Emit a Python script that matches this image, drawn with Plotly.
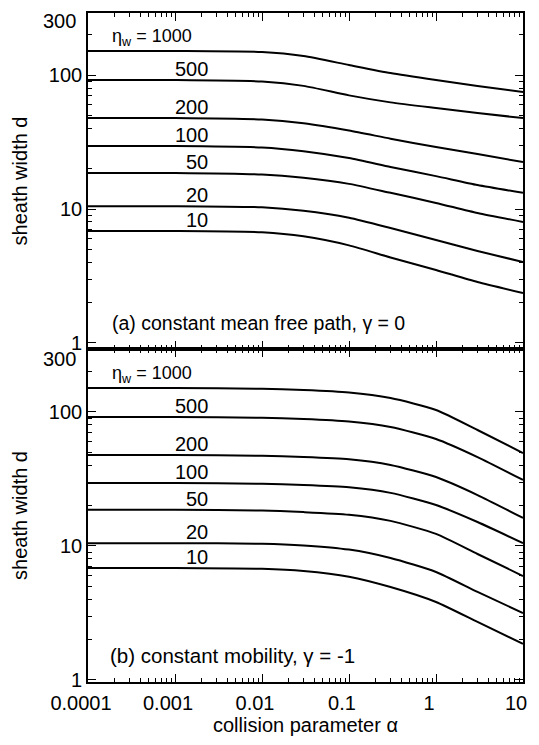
import math
import plotly.graph_objects as go
from plotly.subplots import make_subplots

# collision parameter alpha (x values)
alpha = [1e-4, 1e-3, 1e-2, 0.03, 0.1, 0.3, 1, 3, 10]
eta_w = [1000, 500, 200, 100, 50, 20, 10]

# (a) constant mean free path, gamma = 0 : sheath width d
a_1000 = [151, 151, 148.5, 138.6, 118.8, 103.5, 91.8, 82.8, 74.6]
a_500 = [91.8, 91.8, 89.5, 83.0, 70.5, 62.5, 56.7, 52.1, 47.7]
a_200 = [47.7, 47.7, 46.5, 43.6, 38.5, 33.5, 29.0, 25.7, 22.4]
a_100 = [29.5, 29.5, 28.8, 27.0, 24.0, 20.6, 17.6, 15.1, 13.2]
a_50 = [18.6, 18.6, 18.1, 17.1, 15.4, 13.2, 11.1, 9.33, 8.0]
a_20 = [10.5, 10.5, 10.3, 9.7, 8.6, 7.21, 5.87, 4.86, 4.02]
a_10 = [6.85, 6.85, 6.7, 6.25, 5.35, 4.35, 3.51, 2.85, 2.36]

# (b) constant mobility, gamma = -1 : sheath width d
b_1000 = [151, 151, 149, 146, 140, 127, 103.5, 73.4, 49.4]
b_500 = [91.8, 91.8, 90.5, 88.7, 85.0, 77.3, 62.9, 46.1, 31.1]
b_200 = [47.7, 47.7, 47.1, 46.1, 44.3, 40.2, 32.7, 24.0, 16.2]
b_100 = [29.5, 29.5, 29.1, 28.5, 27.4, 24.9, 20.2, 15.1, 10.5]
b_50 = [18.6, 18.6, 18.4, 17.9, 17.1, 15.4, 12.3, 8.71, 5.97]
b_20 = [10.5, 10.5, 10.4, 10.1, 9.4, 8.13, 6.40, 4.54, 3.16]
b_10 = [6.85, 6.85, 6.75, 6.5, 5.9, 4.94, 3.82, 2.71, 1.86]

# curve labels: d value of each label; first label left-aligned, others right-aligned
label_text = ["\u03b7<sub>w</sub> = 1000", "500", "200", "100", "50", "20", "10"]
label_d = [189, 110, 57.7, 35.6, 22.4, 12.7, 8.28]
label_alpha_first = 0.00018
label_alpha = 0.0025

x_ticks = [1e-4, 1e-3, 1e-2, 0.1, 1, 10]
x_ticktext = ["0.0001", "0.001", "0.01", "0.1", "1", "10"]

FONT = "Liberation Sans, Arial, Helvetica, sans-serif"
split = 333 / 669

fig = make_subplots(rows=2, cols=1, shared_xaxes=False, vertical_spacing=0)

top = [a_1000, a_500, a_200, a_100, a_50, a_20, a_10]
bot = [b_1000, b_500, b_200, b_100, b_50, b_20, b_10]
for row, series in ((1, top), (2, bot)):
    for eta, d in zip(eta_w, series):
        fig.add_trace(go.Scatter(x=alpha, y=d, mode="lines", name=str(eta),
                                 line=dict(color="black", width=2, shape="spline", smoothing=0.6),
                                 showlegend=False, hoverinfo="skip"), row=row, col=1)

axis_common = dict(showline=True, linecolor="black", linewidth=1.6, mirror="ticks",
                   ticks="inside", ticklen=8, tickwidth=1.3, tickcolor="black",
                   showgrid=False, zeroline=False, automargin=False,
                   tickfont=dict(family=FONT, size=20, color="black"))
minor = dict(ticks="inside", ticklen=4, tickwidth=1, tickcolor="black", dtick="D1", showgrid=False)

fig.update_xaxes(type="log", range=[-4, 1], tickvals=x_ticks, ticktext=x_ticktext,
                 minor=minor, **axis_common)
fig.update_xaxes(showticklabels=False, row=1, col=1)
fig.update_xaxes(ticklabelshift=-7, ticklabelstandoff=2,
                 title=dict(text="collision parameter \u03b1", standoff=0,
                            font=dict(family=FONT, size=20, color="black")), row=2, col=1)

fig.update_yaxes(type="log", dtick=1, tickformat="~g", minor=minor,
                 title=dict(text="sheath width d", standoff=16,
                            font=dict(family=FONT, size=20, color="black")),
                 **axis_common)
fig.update_yaxes(range=[-0.045, 2.463], domain=[split, 1], row=1, col=1)
fig.update_yaxes(range=[-0.015, 2.470], domain=[0, split], row=2, col=1)

annotations = []
for xr, yr in (("x", "y"), ("x2", "y2")):
    for i, (t, dv) in enumerate(zip(label_text, label_d)):
        first = i == 0
        annotations.append(dict(x=math.log10(label_alpha_first if first else label_alpha),
                                y=math.log10(dv), xref=xr, yref=yr, text=t, showarrow=False,
                                xanchor="left" if first else "right", yanchor="middle",
                                font=dict(family=FONT, size=18 if first else 20, color="black")))

annotations.append(dict(x=0.05, y=(682 - 323) / 669, xref="paper", yref="paper",
                        text="(a) constant mean free path, \u03b3 = 0", showarrow=False,
                        xanchor="left", yanchor="middle",
                        font=dict(family=FONT, size=19.5, color="black")))
annotations.append(dict(x=0.046, y=(682 - 655) / 669, xref="paper", yref="paper",
                        text="(b) constant mobility, \u03b3 = -1", showarrow=False,
                        xanchor="left", yanchor="middle",
                        font=dict(family=FONT, size=20.5, color="black")))
for yy in (21, 359):
    annotations.append(dict(x=0, y=(682 - yy) / 669, xref="paper", yref="paper", text="300",
                            showarrow=False, xanchor="right", yanchor="middle", xshift=-10,
                            font=dict(family=FONT, size=20, color="black")))

fig.update_layout(width=539, height=745, margin=dict(l=88, r=16, t=13, b=63),
                  plot_bgcolor="white", paper_bgcolor="white", annotations=annotations,
                  font=dict(family=FONT, color="black"))

fig.write_html("out.html", config={"displayModeBar": False},
               post_script="document.body.style.margin='0';document.body.style.padding='0';")
